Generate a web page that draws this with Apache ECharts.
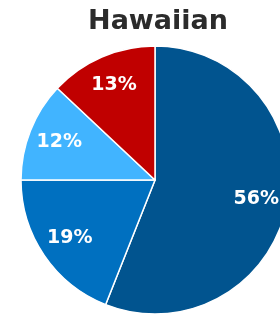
<!DOCTYPE html>
<html>
<head>
    <meta charset="utf-8">
    <title>Hawaiian</title>
    <script src="https://cdn.jsdelivr.net/npm/echarts@6/dist/echarts.min.js"></script>
</head>
<body style="margin:0">
    <div id="main" style="width:280px; height:314px"></div>
    <script type="text/javascript">
        var myChart = echarts.init(document.getElementById('main'));

        var categories = ['A', 'B', 'C', 'D'];
        var shares = [56, 19, 12, 13];
        var colors = ['#01548f', '#0070c0', '#41b4ff', '#c00000'];

        var data = categories.map(function (c, i) {
            return { name: c, value: shares[i], itemStyle: { color: colors[i] } };
        });

option = {
    title: {
        text: 'Hawaiian',
        left: 153,
        top: 3,
        textAlign: 'center',
        textStyle: {
            fontFamily: 'DejaVu Sans',
            fontWeight: 'bold',
            fontSize: 27,
            color: '#2b2b2b'
        }
    },
    series: [
        {
            // the slices
            type: 'pie',
            center: [155, 180],
            radius: [0, 134],
            startAngle: 90,
            clockwise: true,
            animation: false,
            silent: true,
            label: { show: false },
            labelLine: { show: false },
            itemStyle: { borderColor: '#fff', borderWidth: 1.5 },
            data: data
        },
        {
            // transparent ring only to push labels further out
            type: 'pie',
            center: [155, 180],
            radius: [66, 134],
            startAngle: 90,
            clockwise: true,
            animation: false,
            silent: true,
            itemStyle: { color: 'rgba(0,0,0,0)' },
            label: {
                show: true,
                position: 'inside',
                formatter: '{c}%',
                color: '#fff',
                fontFamily: 'DejaVu Sans',
                fontWeight: 'bold',
                fontSize: 19
            },
            labelLine: { show: false },
            data: shares.map(function (v, i) { return { name: categories[i], value: v }; })
        }
    ]
};

        myChart.setOption(option);
    </script>
</body>
</html>
